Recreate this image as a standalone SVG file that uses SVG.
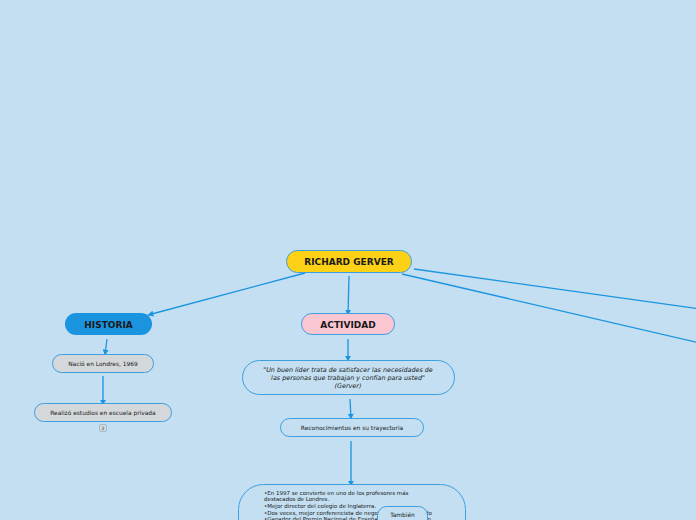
<svg xmlns="http://www.w3.org/2000/svg" width="696" height="520" viewBox="0 0 696 520">
<defs>
<marker id="ah" viewBox="0 0 10 10" refX="9" refY="5" markerWidth="6" markerHeight="6" markerUnits="userSpaceOnUse" orient="auto"><path d="M0,0 L10,5 L0,10 z" fill="#1a94e0"/></marker>
<style>
.c{stroke:#1a94e0;stroke-width:1.3;fill:none;marker-end:url(#ah)}
.l{stroke:#1a94e0;stroke-width:1.3;fill:none}
.n{stroke:#3e9fe0;stroke-width:1}
text{font-family:"DejaVu Sans",Verdana,sans-serif;fill:#1a1a1a}
.b{font-weight:bold;font-size:9px;text-anchor:middle}
.s{font-size:5.9px;text-anchor:middle}
.q{font-size:6.4px;font-style:italic;text-anchor:middle}
.t{font-size:5.5px}
</style>
</defs>
<rect width="696" height="520" fill="#c3dff1"/>
<g id="connectors">
<path class="c" d="M305,273 L148,315"/>
<path class="c" d="M349,276 L348,315"/>
<path class="l" d="M414,269 L700,309"/>
<path class="l" d="M402,274 L700,343"/>
<path class="c" d="M107,339 L105,355"/>
<path class="c" d="M103,376 L103,405"/>
<path class="c" d="M348,339 L348,361"/>
<path class="c" d="M350,399 L351,419"/>
<path class="c" d="M351,441 L351,486"/>
</g>
<g id="richard">
<rect class="n" x="286.5" y="250.5" width="125" height="22" rx="11" fill="#fcd116"/>
<text class="b" x="349" y="265">RICHARD GERVER</text>
</g>
<g id="historia">
<rect x="65" y="313" width="87" height="22" rx="11" fill="#1b94e0"/>
<text class="b" x="108.5" y="328">HISTORIA</text>
</g>
<g id="actividad">
<rect class="n" x="301.5" y="313.5" width="93" height="21" rx="10.5" fill="#f9c6d1"/>
<text class="b" x="348" y="327.5">ACTIVIDAD</text>
</g>
<g id="nacio">
<rect class="n" x="52.5" y="354.5" width="101" height="18" rx="9" fill="#d4d8db"/>
<text class="s" x="103" y="365.5">Nació en Londres, 1969</text>
</g>
<g id="realizo">
<rect class="n" x="34.5" y="403.5" width="137" height="18" rx="9" fill="#d4d8db"/>
<text class="s" x="103" y="414.5">Realizó estudios en escuela privada</text>
<rect x="99.5" y="424.5" width="7" height="7" rx="1.5" fill="#d4d8db" stroke="#8fb7d3" stroke-width="0.8"/>
<text x="103" y="430" font-size="4.5px" text-anchor="middle">2</text>
</g>
<g id="quote">
<rect class="n" x="242.5" y="360.5" width="212" height="34" rx="17" fill="#c3dff1"/>
<text class="q" x="348" y="372">"Un buen líder trata de satisfacer las necesidades de</text>
<text class="q" x="348" y="380">las personas que trabajan y confían para usted"</text>
<text class="q" x="348" y="388">(Gerver)</text>
</g>
<g id="reconocimientos">
<rect class="n" x="280.5" y="418.5" width="143" height="18" rx="9" fill="#c3dff1"/>
<text class="s" x="352" y="429.5" font-size="6.4px">Reconocimientos en su trayectoria</text>
</g>
<g id="logros">
<rect class="n" x="238.5" y="484.5" width="227" height="70" rx="25" fill="#c3dff1"/>
<text class="t" x="264" y="494.5">•En 1997 se convierte en uno de los profesores más</text>
<text class="t" x="264" y="501">destacados de Londres.</text>
<text class="t" x="264" y="508">•Mejor director del colegio de Inglaterra.</text>
<text class="t" x="264" y="514.5">•Dos veces, mejor conferencista de negocios en Reino Unido</text>
<text class="t" x="264" y="521">•Ganador del Premio Nacional de Enseñanza a la Innovación</text>
</g>
<g id="tambien">
<rect class="n" x="377.5" y="506.5" width="50" height="30" rx="9" fill="#c3dff1"/>
<text class="s" x="402.5" y="517">También</text>
</g>
</svg>
